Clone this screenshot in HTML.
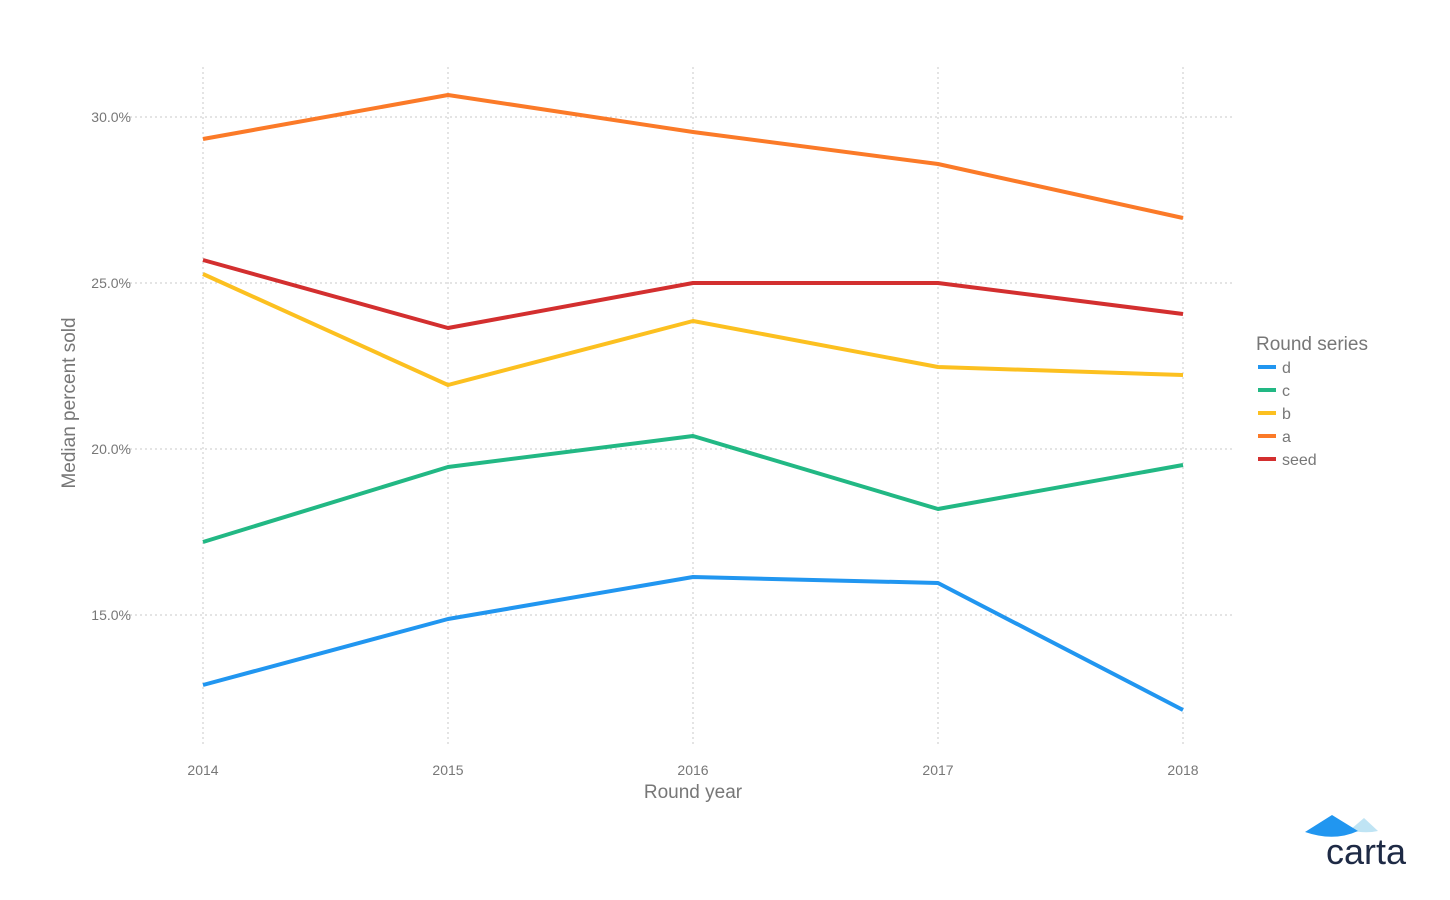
<!DOCTYPE html>
<html><head><style>
html,body{margin:0;padding:0;background:#fff;}
svg{display:block;font-family:"Liberation Sans",Arial,sans-serif;}
</style></head><body>
<svg width="1450" height="900" viewBox="0 0 1450 900" xmlns="http://www.w3.org/2000/svg">
<g stroke="#c8c8c8" stroke-width="1" stroke-dasharray="2,3">
<line x1="125" y1="117" x2="1235" y2="117"/>
<line x1="125" y1="283" x2="1235" y2="283"/>
<line x1="125" y1="449" x2="1235" y2="449"/>
<line x1="125" y1="615" x2="1235" y2="615"/>
<line x1="203" y1="67" x2="203" y2="745"/>
<line x1="448" y1="67" x2="448" y2="745"/>
<line x1="693" y1="67" x2="693" y2="745"/>
<line x1="938" y1="67" x2="938" y2="745"/>
<line x1="1183" y1="67" x2="1183" y2="745"/>
</g>
<g fill="#777" font-size="14" text-anchor="end">
<text x="131" y="122">30.0%</text>
<text x="131" y="288">25.0%</text>
<text x="131" y="454">20.0%</text>
<text x="131" y="620">15.0%</text>
</g>
<g fill="#777" font-size="14" text-anchor="middle">
<text x="203" y="775">2014</text>
<text x="448" y="775">2015</text>
<text x="693" y="775">2016</text>
<text x="938" y="775">2017</text>
<text x="1183" y="775">2018</text>
</g>
<text x="693" y="798" fill="#777" font-size="19" text-anchor="middle">Round year</text>
<text transform="translate(75,403) rotate(-90)" fill="#777" font-size="19" text-anchor="middle">Median percent sold</text>
<g fill="none" stroke-width="4" stroke-linejoin="round">
<polyline stroke="#2196f0" points="203,685 448,619 693,577 938,583 1183,710"/>
<polyline stroke="#22b884" points="203,542 448,467 693,436 938,509 1183,465"/>
<polyline stroke="#fcc020" points="203,274 448,385 693,321 938,367 1183,375"/>
<polyline stroke="#fb7a28" points="203,139 448,95 693,132 938,164 1183,218"/>
<polyline stroke="#d32f2f" points="203,260 448,328 693,283 938,283 1183,314"/>
</g>
<text x="1256" y="350" fill="#777" font-size="19">Round series</text>
<g stroke-width="4">
<line x1="1258" y1="367" x2="1276" y2="367" stroke="#2196f0"/>
<line x1="1258" y1="390" x2="1276" y2="390" stroke="#22b884"/>
<line x1="1258" y1="413" x2="1276" y2="413" stroke="#fcc020"/>
<line x1="1258" y1="436" x2="1276" y2="436" stroke="#fb7a28"/>
<line x1="1258" y1="459" x2="1276" y2="459" stroke="#d32f2f"/>
</g>
<g fill="#777" font-size="16">
<text x="1282" y="373">d</text>
<text x="1282" y="396">c</text>
<text x="1282" y="419">b</text>
<text x="1282" y="442">a</text>
<text x="1282" y="465">seed</text>
</g>
<path d="M1350,830 L1364,818 L1378,831 Q1364,834 1350,830 Z" fill="#bfe4f4"/>
<path d="M1305,832 L1332,815 L1358,831 Q1334,842 1305,832 Z" fill="#2196f0"/>
<text x="1326" y="864" fill="#1e2a45" font-size="36">carta</text>
</svg>
</body></html>
